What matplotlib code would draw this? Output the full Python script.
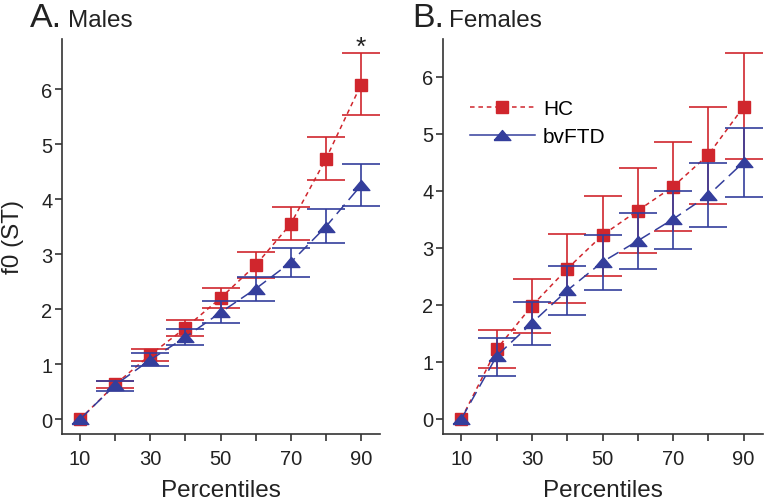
import matplotlib as mpl
import matplotlib.pyplot as plt
from matplotlib.lines import Line2D

# ---------------------------------------------------------------------------
# Data (f0 in semitones by percentile)
# ---------------------------------------------------------------------------
percentiles = [10, 20, 30, 40, 50, 60, 70, 80, 90]

males_hc = [0.0, 0.63, 1.17, 1.66, 2.20, 2.80, 3.55, 4.73, 6.08]
males_hc_hi = [0.0, 0.69, 1.28, 1.80, 2.38, 3.04, 3.85, 5.13, 6.65]
males_hc_lo = [0.0, 0.56, 1.06, 1.52, 2.02, 2.57, 3.26, 4.34, 5.53]

males_ftd = [0.0, 0.62, 1.08, 1.49, 1.94, 2.37, 2.85, 3.50, 4.25]
males_ftd_hi = [0.0, 0.70, 1.20, 1.64, 2.14, 2.58, 3.11, 3.82, 4.64]
males_ftd_lo = [0.0, 0.52, 0.96, 1.34, 1.75, 2.15, 2.58, 3.20, 3.87]

females_hc = [0.0, 1.22, 1.98, 2.63, 3.22, 3.65, 4.07, 4.63, 5.47]
females_hc_hi = [0.0, 1.56, 2.45, 3.24, 3.91, 4.40, 4.86, 5.47, 6.41]
females_hc_lo = [0.0, 0.89, 1.51, 2.03, 2.51, 2.91, 3.29, 3.77, 4.55]

females_ftd = [0.0, 1.10, 1.68, 2.25, 2.75, 3.12, 3.50, 3.92, 4.50]
females_ftd_hi = [0.0, 1.41, 2.04, 2.67, 3.23, 3.61, 4.00, 4.48, 5.09]
females_ftd_lo = [0.0, 0.74, 1.30, 1.81, 2.26, 2.63, 2.97, 3.36, 3.89]

XTICKS = [10, 30, 50, 70, 90]

RED = "#d0262d"
BLUE = "#343e9c"
AXIS = "#333333"
TEXT = "#222222"

# flattened triangle like the original
TRI = [(-1, -0.6), (1, -0.6), (0, 0.6), (-1, -0.6)]

mpl.rcParams.update({
    "font.family": ["Liberation Sans", "DejaVu Sans"],
    "font.size": 14.5,
    "axes.spines.top": False,
    "axes.spines.right": False,
    "axes.edgecolor": AXIS,
    "axes.linewidth": 1.2,
    "xtick.color": AXIS,
    "ytick.color": AXIS,
    "xtick.labelcolor": TEXT,
    "ytick.labelcolor": TEXT,
    "xtick.major.size": 5,
    "ytick.major.size": 5,
    "xtick.major.width": 1.2,
    "ytick.major.width": 1.2,
    "xtick.major.pad": 6,
    "ytick.major.pad": 2,
})


def errs(mean, lo, hi):
    return [[m - l for m, l in zip(mean, lo)], [h - m for m, h in zip(mean, hi)]]


def draw_group(ax, mean, lo, hi, color, marker, ms, dashes, z):
    ax.errorbar(percentiles[1:], mean[1:], yerr=errs(mean[1:], lo[1:], hi[1:]),
                fmt="none", ecolor=color, elinewidth=1.2, capsize=14,
                capthick=1.2, zorder=z, clip_on=False)
    ax.plot(percentiles, mean, color=color, lw=1.1, dashes=dashes, zorder=z)
    ax.plot(percentiles, mean, ls="none", marker=marker, ms=ms, color=color,
            mec=color, zorder=z + 1, clip_on=False)


def style_axes(ax, ymax, ytop):
    ax.set_xlim(4.85, 95.4)
    ax.set_ylim(-0.27, ytop)
    ax.set_xticks(range(10, 91, 10))
    ax.set_xticklabels([str(p) if p in XTICKS else "" for p in range(10, 91, 10)])
    ax.set_yticks(range(0, ymax + 1))
    ax.set_xlabel("Percentiles", fontsize=17.5, color=TEXT, labelpad=8)


fig = plt.figure(figsize=(7.65, 5.02), dpi=100)
ax1 = fig.add_axes([62 / 765, 67 / 502, 318 / 765, 395 / 502])
ax2 = fig.add_axes([443.3 / 765, 67 / 502, 319.4 / 765, 395 / 502])

# A. Males
draw_group(ax1, males_hc, males_hc_lo, males_hc_hi, RED, "s", 9, (3, 2.5), 3)
draw_group(ax1, males_ftd, males_ftd_lo, males_ftd_hi, BLUE, TRI, 12, (8, 4), 5)
style_axes(ax1, 6, 6.91)
ax1.set_ylabel("f0 (ST)", fontsize=17.5, color=TEXT, labelpad=12)
ax1.text(90, 6.76, "*", ha="center", va="center", fontsize=19, color=TEXT)

# B. Females
draw_group(ax2, females_hc, females_hc_lo, females_hc_hi, RED, "s", 9, (3, 2.5), 3)
draw_group(ax2, females_ftd, females_ftd_lo, females_ftd_hi, BLUE, TRI, 12, (8, 4), 5)
style_axes(ax2, 6, 6.66)

handles = [
    Line2D([], [], color=RED, lw=1.1, dashes=(3, 2.5), marker="s", ms=9),
    Line2D([], [], color=BLUE, lw=1.1, marker=TRI, ms=12),
]
fig.legend(handles, ["HC", "bvFTD"], loc="upper left",
           bbox_to_anchor=(470 / 765, (502 - 100) / 502), frameon=False,
           fontsize=15, handlelength=3.1, handletextpad=0.4, labelspacing=0.45,
           borderpad=0, borderaxespad=0)

# panel titles
fig.text(30 / 765, 1 - 27 / 502, "A.", fontsize=24.5, va="baseline", color=TEXT)
fig.text(68 / 765, 1 - 27 / 502, "Males", fontsize=17.5, va="baseline", color=TEXT)
fig.text(412 / 765, 1 - 27 / 502, "B.", fontsize=24.5, va="baseline", color=TEXT)
fig.text(449 / 765, 1 - 27 / 502, "Females", fontsize=17.5, va="baseline", color=TEXT)

fig.savefig("out.png", dpi=100)
